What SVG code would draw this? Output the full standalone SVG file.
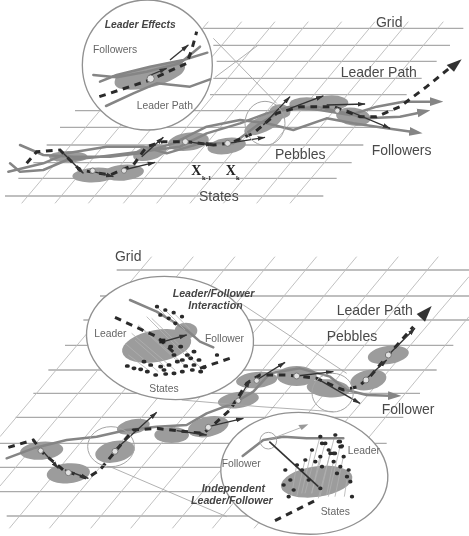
<svg xmlns="http://www.w3.org/2000/svg" width="469" height="536" viewBox="0 0 469 536">
<style>
text{font-family:"Liberation Sans",Arial,sans-serif;font-size:42px;fill:#4a4a4a}
.s{font-size:31px;fill:#666}
.b{font-size:32px;font-weight:bold;font-style:italic;fill:#444}
.x{font-family:"Liberation Serif","Times New Roman",serif;font-weight:bold;fill:#222}
.xs{font-family:"Liberation Serif","Times New Roman",serif;font-weight:bold;font-size:20px;fill:#222}
.grid{fill:none;stroke:#aaa;stroke-width:3.8}
.diag{fill:none;stroke:#bcbcbc;stroke-width:2.8}
.thin{fill:none;stroke:#a5a5a5;stroke-width:2.6}
.peb{fill:#9c9c9c;stroke:none}
.st{fill:#e2e2e2;stroke:#777;stroke-width:3}
.fol{fill:none;stroke:#858585;stroke-width:7.5;stroke-linejoin:round;stroke-linecap:round}
.foa{marker-end:url(#ga)}
.lead{fill:none;stroke:#2a2a2a;stroke-width:9;stroke-dasharray:20 17}
.arr{fill:none;stroke:#333;stroke-width:4;marker-end:url(#ka)}
.call{fill:#fff;stroke:#919191;stroke-width:4}
.ring{fill:none;stroke:#a5a5a5;stroke-width:3}
.dots{fill:none;stroke:#2a2a2a;stroke-width:11;stroke-linecap:round}
.rays{fill:none;stroke:#b0b0b0;stroke-width:2.4}
</style>
<defs>
<filter id="soft" filterUnits="userSpaceOnUse" x="0" y="0" width="469" height="536"><feGaussianBlur stdDeviation="0.55"/></filter>
<marker id="ka" markerUnits="userSpaceOnUse" markerWidth="24" markerHeight="18" refX="22" refY="9" orient="auto"><path d="M0,2 L24,9 L0,16 Z" fill="#333"/></marker>
<marker id="ga" markerUnits="userSpaceOnUse" markerWidth="40" markerHeight="30" refX="6" refY="15" orient="auto"><path d="M0,2 L40,15 L0,28 Z" fill="#858585"/></marker>
</defs>
<rect width="469" height="536" fill="#fff"/>
<g filter="url(#soft)">

<g id="top-figure" transform="scale(.33333)">
<g id="top-grid">
<path class="grid" d="M610,85H1390M640,136H1350M650,184H1310M640,235H1265M630,284H1220M225,332H1180M180,382H1135M140,435H1090M100,488H1055M55,535H1010M15,588H970"/>
<path class="diag" d="M65,610L525,65M165,610L625,65M265,610L725,65M370,610L825,65M470,610L925,65M570,610L1025,65M670,610L1125,65M770,610L1225,65M870,610L1330,65"/>
</g>
<g id="top-pebbles">
<ellipse class="peb" cx="285" cy="525" rx="68" ry="22" transform="rotate(-3 285 525)"/>
<ellipse class="peb" cx="370" cy="518" rx="62" ry="24" transform="rotate(-5 370 518)"/>
<ellipse class="peb" cx="205" cy="470" rx="58" ry="17"/>
<ellipse class="peb" cx="450" cy="458" rx="52" ry="22" transform="rotate(-15 450 458)"/>
<ellipse class="peb" cx="565" cy="425" rx="62" ry="27" transform="rotate(-8 565 425)"/>
<ellipse class="peb" cx="680" cy="438" rx="58" ry="24" transform="rotate(-8 680 438)"/>
<ellipse class="peb" cx="790" cy="372" rx="62" ry="24" transform="rotate(-25 790 372)"/>
<ellipse class="peb" cx="840" cy="335" rx="32" ry="22"/>
<ellipse class="peb" cx="920" cy="312" rx="52" ry="20"/>
<ellipse class="peb" cx="995" cy="308" rx="50" ry="22"/>
<ellipse class="peb" cx="1060" cy="350" rx="52" ry="27" transform="rotate(8 1060 350)"/>
</g>
<g id="top-connectors">
<path class="fol foa" d="M30,490L60,515L130,510L200,480L300,470L420,455L540,440L620,400L720,370L800,340L870,320L960,330L1050,345L1130,320L1210,305L1296,305"/>
<path class="fol foa" d="M25,515L130,490L200,460L320,440L430,440L500,460L600,430L700,430L780,370L850,330L950,320L1040,340L1100,355L1200,350L1258,338"/>
<path class="fol foa" d="M60,435L130,465L220,470L330,470L420,460L520,430L620,380L720,360L800,370L880,390L980,355L1060,370L1160,385L1234,395"/>
<path class="lead" d="M80,490L110,455L180,450L240,510L330,525L400,495L440,440L490,425L560,425L640,435L690,430L760,400L830,340L900,320L1000,320L1080,350L1130,350L1200,320L1280,260L1345,207"/>
<path d="M1385,178L1340,195L1362,215Z" fill="#333"/>
<path class="arr" d="M190,460L250,520"/><path class="arr" d="M280,515L340,530"/><path class="arr" d="M370,510L465,487"/>
<path class="arr" d="M425,470L490,412"/><path class="arr" d="M555,425L640,435"/><path class="arr" d="M683,430L795,412"/>
<path class="arr" d="M790,375L870,290"/><path class="arr" d="M870,325L970,288"/><path class="arr" d="M980,315L1095,312"/><path class="arr" d="M1040,330L1170,385"/>
<path class="thin" d="M640,115L830,310M775,135L645,232"/>
<ellipse class="ring" cx="795" cy="370" rx="60" ry="66"/>
</g>
<g id="top-states">
<circle class="st" cx="278" cy="512" r="8"/><circle class="st" cx="372" cy="512" r="8"/><circle class="st" cx="556" cy="425" r="9"/><circle class="st" cx="683" cy="430" r="9"/><circle class="st" cx="1012" cy="332" r="8"/>
</g>
<g id="top-callout">
<circle class="call" cx="442" cy="195" r="195"/>
<path class="peb" d="M345,240C350,210 440,210 520,185C560,180 565,205 540,225C500,255 420,275 370,268C350,265 340,255 345,240Z"/>
<path class="fol" d="M280,225L350,232L440,215L540,190L600,140M300,245L350,225L450,200L550,180L622,158M318,318L400,280L470,250L520,255L570,260L630,238"/>
<path class="lead" d="M298,290L450,240L560,190L575,150L590,95"/>
<path class="arr" d="M445,228L500,205"/>
<path class="arr" d="M510,180L565,135"/>
<circle class="st" cx="452" cy="236" r="11"/>
<text class="b" x="314" y="85" style="font-size:31px">Leader Effects</text>
<text class="s" x="279" y="160">Followers</text>
<text class="s" x="410" y="326">Leader Path</text>
</g>
<g id="top-labels">
<text x="1128" y="80">Grid</text>
<text x="1022" y="231">Leader Path</text>
<text x="825" y="477">Pebbles</text>
<text x="1115" y="465">Followers</text>
<text x="597" y="602">States</text>
<text class="x" x="574" y="526">X</text><text class="xs" x="606" y="541">k-1</text>
<text class="x" x="677" y="526">X</text><text class="xs" x="708" y="541">k</text>
</g>
</g>

<g id="bottom-figure" transform="translate(0,240) scale(.33333)">
<g id="bottom-grid">
<path class="grid" d="M350,90H1407M300,168H1407M250,240H1407M195,316H1360M145,390H1310M100,460H1260M47,532H1210M0,610H1160M0,682H1110M0,755H1060M20,828H1010"/>
<path class="diag" d="M455,50L0,590M580,50L0,738M705,50L28,865M825,50L148,865M950,50L272,865M1070,50L392,865M1195,50L517,865M1315,50L637,865M1407,110L762,865M1407,230L880,865"/>
</g>
<g id="bottom-pebbles">
<ellipse class="peb" cx="125" cy="632" rx="65" ry="27" transform="rotate(-5 125 632)"/>
<ellipse class="peb" cx="205" cy="700" rx="65" ry="30" transform="rotate(-5 205 700)"/>
<ellipse class="peb" cx="345" cy="635" rx="60" ry="32" transform="rotate(-12 345 635)"/>
<ellipse class="peb" cx="400" cy="560" rx="50" ry="22" transform="rotate(-12 400 560)"/>
<ellipse class="peb" cx="515" cy="585" rx="52" ry="24"/>
<ellipse class="peb" cx="625" cy="560" rx="62" ry="30" transform="rotate(-12 625 560)"/>
<ellipse class="peb" cx="715" cy="480" rx="62" ry="24" transform="rotate(-8 715 480)"/>
<ellipse class="peb" cx="770" cy="420" rx="62" ry="24" transform="rotate(-5 770 420)"/>
<ellipse class="peb" cx="890" cy="408" rx="60" ry="30"/>
<ellipse class="peb" cx="985" cy="445" rx="65" ry="27" transform="rotate(5 985 445)"/>
<ellipse class="peb" cx="1105" cy="420" rx="55" ry="30" transform="rotate(-12 1105 420)"/>
<ellipse class="peb" cx="1165" cy="345" rx="62" ry="27" transform="rotate(-8 1165 345)"/>
</g>
<g id="bottom-connectors">
<path class="fol foa" d="M20,655L100,625L200,600L290,590L380,570L470,560L560,555L620,520L700,490L760,455L810,400L900,385L990,410L1040,450L1100,465L1170,467"/>
<path class="lead" d="M25,622L100,600L130,640L190,690L260,715L300,690L345,635L400,570L470,565L530,572L610,580L640,555L690,510L740,430L780,405L860,405L950,415L1030,450L1075,440L1110,410L1165,345L1240,260"/>
<path d="M1295,198L1250,222L1275,245Z" fill="#333"/>
<path class="arr" d="M125,630L175,685"/><path class="arr" d="M195,690L265,715"/><path class="arr" d="M345,630L470,517"/>
<path class="arr" d="M530,572L620,585"/><path class="arr" d="M625,560L730,535"/><path class="arr" d="M715,480L750,420"/>
<path class="arr" d="M770,420L855,367"/><path class="arr" d="M890,408L1000,395"/><path class="arr" d="M950,415L1080,490"/><path class="arr" d="M1095,420L1160,360"/><path class="arr" d="M1165,345L1245,265"/>
<path class="thin" d="M730,195L1040,400M545,480L780,500L1000,515M330,680L680,830"/>
<ellipse class="ring" cx="998" cy="458" rx="62" ry="58"/>
<ellipse class="ring" cx="333" cy="620" rx="70" ry="60"/>
</g>
<g id="bottom-states">
<circle class="st" cx="122" cy="632" r="8"/><circle class="st" cx="205" cy="698" r="9"/><circle class="st" cx="345" cy="634" r="9"/><circle class="st" cx="625" cy="562" r="9"/><circle class="st" cx="715" cy="482" r="8"/><circle class="st" cx="770" cy="422" r="8"/><circle class="st" cx="890" cy="408" r="9"/><circle class="st" cx="1098" cy="420" r="9"/><circle class="st" cx="1165" cy="345" r="9"/>
</g>
<g id="upper-callout">
<ellipse class="call" cx="510" cy="294" rx="251" ry="184" transform="rotate(5 510 294)"/>
<ellipse class="peb" cx="470" cy="318" rx="105" ry="48" transform="rotate(-10 470 318)"/>
<ellipse class="peb" cx="558" cy="272" rx="34" ry="24"/>
<path class="fol" d="M390,180L470,215L560,270L600,305L640,322"/>
<path class="rays" d="M470,200l60,60M495,210l60,60M520,218l50,50M440,230l130,130M415,255l150,130M395,280l130,110M375,310l100,85M385,345l60,45M560,345l45,40M455,235l125,120M430,270l110,100M405,300l90,80"/>
<path class="lead" d="M345,232L470,290L530,345"/>
<path class="lead" d="M600,385L690,355"/>
<path class="dots" d="M380,378h4M400,385h4M420,388h4M440,395h4M465,405h4M495,402h4M520,400h4M545,395h4M575,390h4M600,395h4M610,382h4M580,375h4M555,378h4M530,365h4M505,375h4M480,380h4M450,375h4M430,365h4M595,360h4M520,345h4M560,345h4M540,320h4M580,335h4M470,200h2M495,210h2M520,218h2M545,230h2M480,225h2M505,235h2M525,250h2M650,345h2M490,390h4M570,355h4M545,360h4M510,320h4"/>
<path class="arr" d="M490,305L560,285"/>
<rect x="478" y="296" width="18" height="14" fill="#222"/>
<text class="b" x="518" y="170">Leader/Follower</text>
<text class="b" x="565" y="207">Interaction</text>
<text class="s" x="283" y="290">Leader</text>
<text class="s" x="615" y="306">Follower</text>
<text class="s" x="448" y="456">States</text>
</g>
<g id="lower-callout">
<ellipse class="call" cx="913" cy="700" rx="251" ry="182" transform="rotate(5 913 700)"/>
<ellipse class="peb" cx="950" cy="725" rx="108" ry="46" transform="rotate(-8 950 725)"/>
<path class="rays" d="M960,590l-45,170M1005,585l-50,190M975,610l-40,150M1020,620l-35,150M990,640l-30,130M1030,650l-25,120M935,630l-30,130M960,650l-25,110M1000,665l-20,100M915,660l-25,110M890,675l-15,90M1045,690l-12,80"/>
<path class="fol" d="M728,648L790,600L850,590L920,595L1030,595"/>
<path d="M805,600L905,562" class="thin"/><path d="M925,553L895,555L905,570Z" fill="#999"/>
<circle class="ring" cx="805" cy="602" r="25"/>
<path fill="none" stroke="#333" stroke-width="5" d="M808,605L955,740"/>
<path class="lead" d="M825,842L945,782"/>
<path class="dots" d="M960,590h2M1005,585h2M975,610h2M1020,620h6M990,640h2M1030,650h2M935,630h2M960,650h2M1000,665h2M915,660h2M890,675h2M855,690h2M870,720h2M850,735h2M865,770h2M1055,770h2M1045,690h2M1050,725h2M1015,605h6M1025,618h2M1000,640h6M965,610h2M905,690h2M965,680h2M1010,700h2M960,745h2M985,630h2M945,665h2M1040,710h2M925,720h2M1020,680h2M880,750h2"/>
<text class="b" x="605" y="755">Independent</text>
<text class="b" x="573" y="792">Leader/Follower</text>
<text class="s" x="665" y="680">Follower</text>
<text class="s" x="1043" y="641">Leader</text>
<text class="s" x="962" y="826">States</text>
</g>
<g id="bottom-labels">
<text x="345" y="63">Grid</text>
<text x="1010" y="225">Leader Path</text>
<text x="980" y="304">Pebbles</text>
<text x="1145" y="522">Follower</text>
</g>
</g>

</g>
</svg>
